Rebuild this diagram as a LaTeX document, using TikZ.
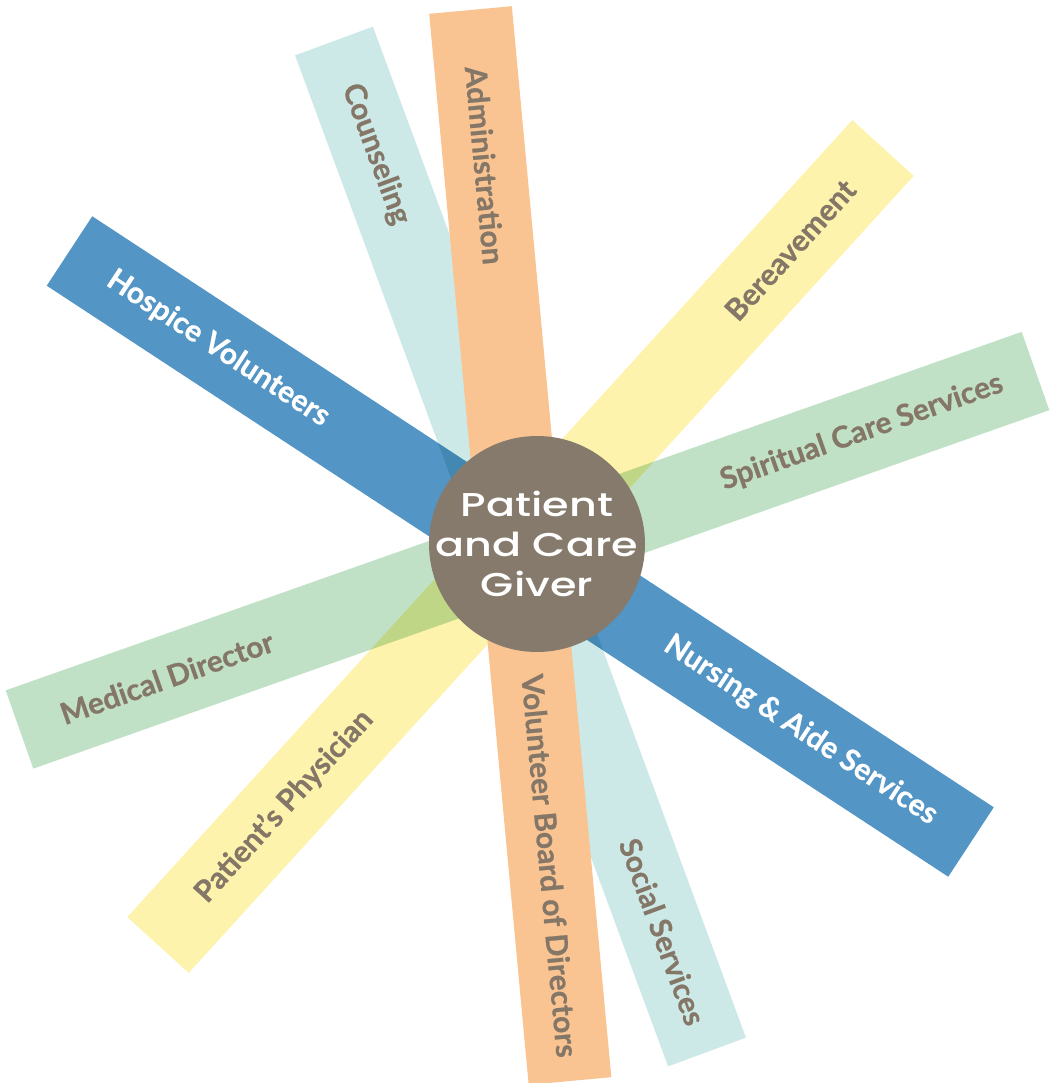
\documentclass[tikz,border=0pt]{standalone}
\usepackage{fontspec}
\setmainfont{Lato}[BoldFeatures={FakeBold=0.7}]
\newfontfamily\hubfont[FakeStretch=1.3]{Poppins Medium}
\usetikzlibrary{calc}
\definecolor{steelblue}{RGB}{83, 149, 197}
\definecolor{paleaqua}{RGB}{205, 233, 231}
\definecolor{apricot}{RGB}{249, 196, 145}
\definecolor{lemon}{RGB}{253, 243, 173}
\definecolor{sage}{RGB}{193, 225, 198}
\definecolor{taupe}{RGB}{133, 122, 107}
\definecolor{labelgray}{RGB}{132, 119, 103}

\tikzset{
  band/.style={line width=83pt, line cap=butt},
  tag/.style={font=\bfseries\fontsize{30}{30}\selectfont, text=labelgray, inner sep=0pt, sloped},
  whitetag/.style={tag, text=white},
}

\begin{document}
\begin{tikzpicture}[x=1pt, y=-1pt]
            \useasboundingbox (0,0) rectangle (1056,1083);
            % band ends
            \coordinate (aquaTop)    at ( 334.0,   41.0);
            \coordinate (aquaBot)    at ( 707.0, 1052.0);
            \coordinate (apricotTop) at ( 470.5,   10.0);
            \coordinate (apricotBot) at ( 570.0, 1081.0);
            \coordinate (lemonBot)   at ( 158.0,  945.0);
            \coordinate (lemonTop)   at ( 883.0,  148.0);
            \coordinate (sageLeft)   at (  19.5,  729.5);
            \coordinate (sageRight)  at (1035.5,  371.0);
            \coordinate (blueLeft)   at (  69.5,  251.0);
            \coordinate (blueRight)  at ( 971.0,  842.0);
            % bands
            \draw[band, paleaqua] (aquaTop) -- (aquaBot);
            \draw[band, lemon] (lemonBot) -- (lemonTop);
            \draw[band, apricot] (apricotTop) -- (apricotBot);
            \draw[band, sage, blend mode=multiply] (sageLeft) -- (sageRight);
            \draw[band, steelblue, blend mode=multiply] (blueLeft) -- (blueRight);
            % labels
            \path (aquaTop) -- (aquaBot)
                 node[tag, pos=0.112] (counseling) {Counseling}
                 node[tag, pos=0.881] (social) {Social Services};
            \path (lemonBot) -- (lemonTop)
                 node[tag, pos=0.174] (physician) {Patient’s Physician}
                 node[tag, pos=0.872] (bereavement) {Bereavement};
            \path (apricotTop) -- (apricotBot)
                 node[tag, pos=0.145] (admin) {Administration}
                 node[tag, pos=0.799] (board) {Volunteer Board of Directors};
            \path (sageLeft) -- (sageRight)
                 node[tag, pos=0.145] (medical) {Medical Director}
                 node[tag, pos=0.829] (spiritual) {Spiritual Care Services};
            \path (blueLeft) -- (blueRight)
                 node[whitetag, pos=0.165] (hospice) {Hospice Volunteers}
                 node[whitetag, pos=0.811] (nursing) {Nursing \& Aide Services};
            % hub
            \node[circle, fill=taupe, minimum size=216pt, inner sep=0pt] (hub) at (537, 544) {};
            \node[text=white, align=center, inner sep=0pt,
                  font=\hubfont\fontsize{33}{40}\selectfont] (hubtext) at (hub.center)
                 {Patient\\and Care\\Giver};
        \end{tikzpicture}
\end{document}
